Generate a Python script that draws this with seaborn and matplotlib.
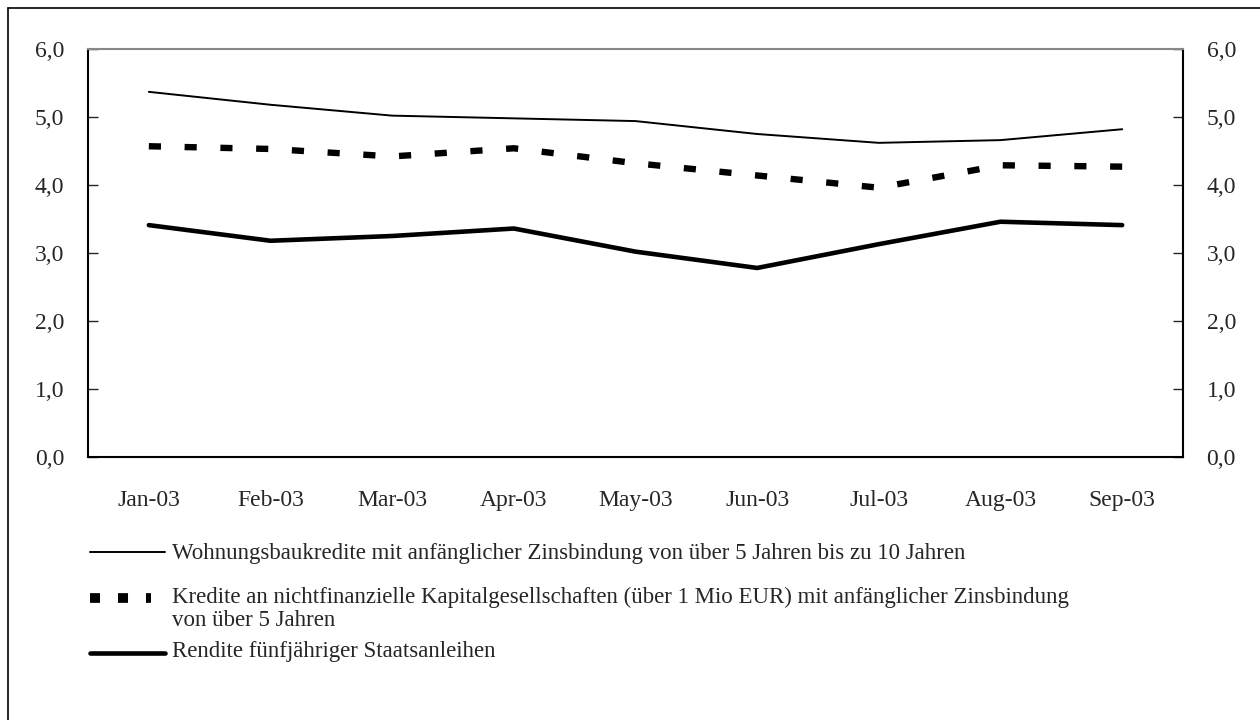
import matplotlib.pyplot as plt
from matplotlib.lines import Line2D
import numpy as np
import pandas as pd
import seaborn as sns

months = ["Jan-03", "Feb-03", "Mar-03", "Apr-03", "May-03",
          "Jun-03", "Jul-03", "Aug-03", "Sep-03"]
wohnbau = [5.37, 5.18, 5.02, 4.98, 4.94, 4.75, 4.62, 4.66, 4.82]
kredite = [4.57, 4.53, 4.42, 4.54, 4.32, 4.14, 3.96, 4.29, 4.27]
rendite = [3.41, 3.18, 3.25, 3.36, 3.02, 2.78, 3.13, 3.46, 3.41]
yticks = [0, 1, 2, 3, 4, 5, 6]

labels = [
    "Wohnungsbaukredite mit anfänglicher Zinsbindung von über 5 Jahren bis zu 10 Jahren",
    "Kredite an nichtfinanzielle Kapitalgesellschaften (über 1 Mio EUR) mit anfänglicher Zinsbindung\nvon über 5 Jahren",
    "Rendite fünfjähriger Staatsanleihen",
]

sns.set_style("white")
plt.rcParams["font.family"] = ["Liberation Serif", "DejaVu Serif"]
plt.rcParams["font.size"] = 17

fig = plt.figure(figsize=(12.6, 7.2), dpi=100)
ax = fig.add_axes([88 / 1260, 1 - 457 / 720, (1183 - 88) / 1260, (457 - 49) / 720])

df = pd.DataFrame({"month": months, "wohnbau": wohnbau,
                   "kredite": kredite, "rendite": rendite})

sns.lineplot(data=df, x="month", y="wohnbau", ax=ax, color="black",
             linewidth=1.4, sort=False)
sns.lineplot(data=df, x="month", y="kredite", ax=ax, color="black",
             linewidth=4.6, linestyle=(0, (1.9, 3.7)), dash_capstyle="butt",
             sort=False)
sns.lineplot(data=df, x="month", y="rendite", ax=ax, color="black",
             linewidth=3.3, sort=False)

ax.set_xlim(-0.5, len(months) - 0.5)
ax.set_ylim(0, 6)
ax.set_xlabel("")
ax.set_ylabel("")
ax.set_yticks(yticks)
ax.set_yticklabels([f"{v:.1f}".replace(".", ",") for v in yticks])
ax.set_xticks(range(len(months)))
ax.set_xticklabels(months)
ax.set_xticks(np.arange(0.5, len(months) - 1, 1), minor=True)

ax.tick_params(axis="x", which="major", length=0, pad=24, labelsize=17)
ax.tick_params(axis="x", which="minor", direction="in", length=7, width=1, color="#444444")
ax.tick_params(axis="y", direction="in", length=7, width=1, left=True, right=True,
               labelleft=True, labelright=True, labelsize=17)
ax.tick_params(axis="y", which="major", pad=17)

for side in ["left", "right", "bottom"]:
    ax.spines[side].set_color("black")
    ax.spines[side].set_linewidth(1.5)
ax.spines["top"].set_color("#888888")
ax.spines["top"].set_linewidth(1.5)

# legend drawn by hand so that the wrapped entry lines up like the original
W, H = 1260, 720
def fx(px):
    return px / W
def fy(py):
    return 1 - py / H

fig.add_artist(Line2D([fx(90), fx(165)], [fy(552), fy(552)], color="black", linewidth=1.4))
fig.add_artist(Line2D([fx(90), fx(151)], [fy(598), fy(598)], color="black", linewidth=7,
                      linestyle=(0, (1.03, 1.85)), dash_capstyle="butt"))
fig.add_artist(Line2D([fx(90), fx(165)], [fy(653), fy(653)], color="black", linewidth=3.3))

fs = 16.5
fig.text(fx(172), fy(553), labels[0], va="center", ha="left", fontsize=fs)
fig.text(fx(172), fy(597), labels[1].split("\n")[0], va="center", ha="left", fontsize=fs)
fig.text(fx(172), fy(620), labels[1].split("\n")[1], va="center", ha="left", fontsize=fs)
fig.text(fx(172), fy(652), labels[2], va="center", ha="left", fontsize=fs)

# outer frame (left and top edges)
fig.add_artist(Line2D([fx(7.5), fx(7.5)], [0, fy(7.5)], color="black", linewidth=1.2))
fig.add_artist(Line2D([fx(7.5), 1], [fy(7.5), fy(7.5)], color="black", linewidth=1.2))

fig.savefig("out.png", dpi=100)
